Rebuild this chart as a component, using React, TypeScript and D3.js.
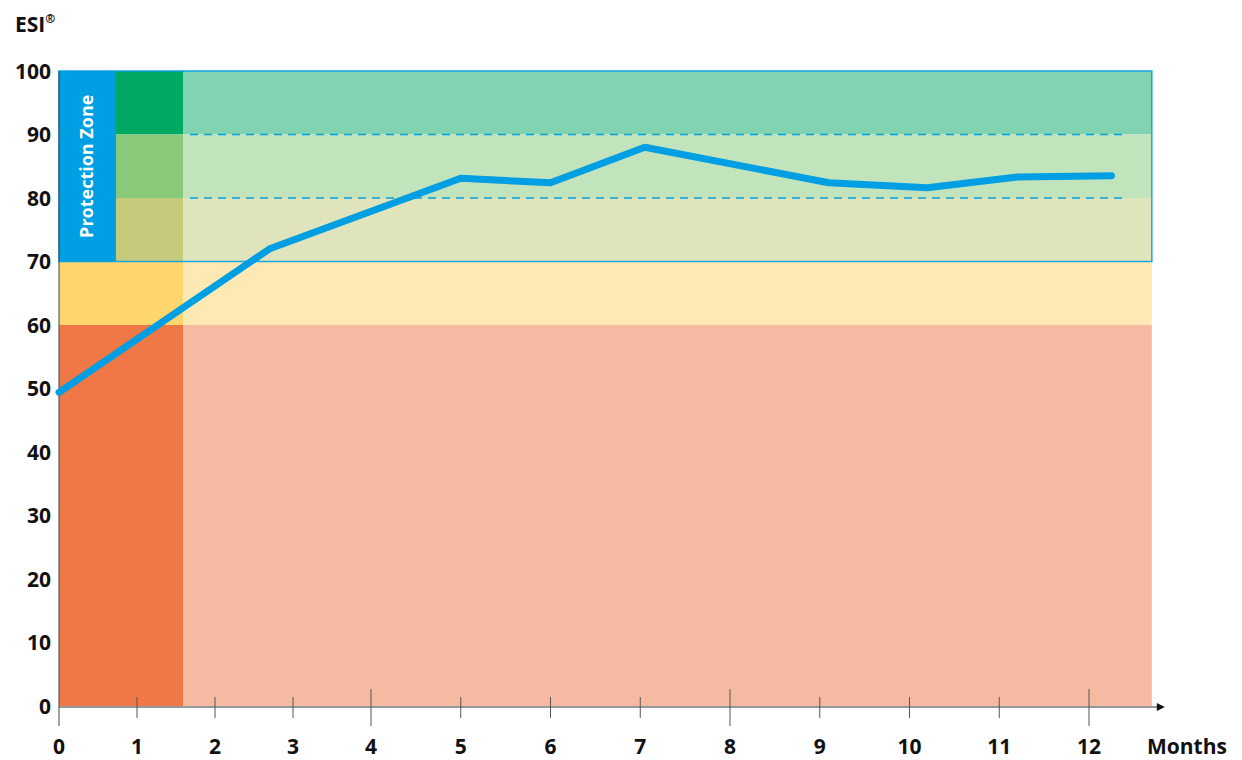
import React from "react";
import * as d3 from "d3";

// ESI score over the months
const months = [0, 2.7, 5, 6, 7.05, 9.1, 10.2, 11.2, 12.25];
const esi = [49.4, 72.0, 83.1, 82.4, 88.0, 82.4, 81.6, 83.3, 83.5];

const xTicks = [0, 1, 2, 3, 4, 5, 6, 7, 8, 9, 10, 11, 12];
const majorTicks = [0, 4, 8, 12];
const yTicks = [0, 10, 20, 30, 40, 50, 60, 70, 80, 90, 100];

// zone bands: [low, high]
const bandLevels = [[90, 100], [80, 90], [70, 80], [60, 70], [0, 60]];
const columnColors = ["#00A963", "#88C97A", "#C5CB7A", "#FFD56E", "#F07846"];
const fieldColors = ["#80D4B2", "#C2E4BC", "#DFE4BC", "#FEE9B4", "#F6BAA2"];
const dashedLevels = [90, 80];

const BLUE = "#009FE3";
const FONT = "'Open Sans', 'DejaVu Sans', sans-serif";

export default function App() {
  const x = d3.scaleLinear().domain([0, 4, 12]).range([59, 371, 1089]);
  const y = d3.scaleLinear().domain([0, 100]).range([706, 71]);

  const pzRight = x(0.73);
  const colRight = x(1.59);
  const fieldRight = x(12.7);
  const axisY = y(0) + 1;

  const line = d3
    .line<number>()
    .x((_, i) => x(months[i]))
    .y((d) => y(d));

  return (
    <svg width={1242} height={760} style={{ position: "absolute", left: 0, top: 0 }} fontFamily={FONT}>
      <rect width={1242} height={760} fill="#fff" />

      {/* bands */}
      {bandLevels.map(([lo, hi], i) => (
        <g key={i}>
          <rect x={x(0)} y={y(hi)} width={colRight - x(0)} height={y(lo) - y(hi)} fill={columnColors[i]} />
          <rect x={colRight} y={y(hi)} width={fieldRight - colRight} height={y(lo) - y(hi)} fill={fieldColors[i]} />
        </g>
      ))}

      {/* protection zone */}
      <rect x={x(0)} y={y(100)} width={pzRight - x(0)} height={y(70) - y(100)} fill={BLUE} />
      <text
        transform={`translate(${(x(0) + pzRight) / 2 + 6},${(y(100) + y(70)) / 2}) rotate(-90)`}
        textAnchor="middle"
        fill="#fff"
        fontWeight={700}
        fontSize={18}
      >
        Protection Zone
      </text>

      {/* frame around the protection range */}
      <rect
        x={x(0)}
        y={y(100)}
        width={fieldRight - x(0)}
        height={y(70) - y(100)}
        fill="none"
        stroke={BLUE}
        strokeWidth={1.5}
        opacity={0.9}
      />

      {dashedLevels.map((v) => (
        <line
          key={v}
          x1={colRight + 7}
          x2={x(12.38)}
          y1={y(v)}
          y2={y(v)}
          stroke={BLUE}
          strokeWidth={1.5}
          strokeDasharray="8 6"
        />
      ))}

      {/* axes */}
      <line x1={x(0)} x2={x(0)} y1={y(100)} y2={axisY + 19} stroke="#444" strokeWidth={1} />
      <line x1={x(0)} x2={x(12.8)} y1={axisY} y2={axisY} stroke="#333" strokeWidth={1} />
      <path
        d={`M${x(12.8) + 4},${axisY} L${x(12.8) - 4},${axisY - 4} L${x(12.8) - 4},${axisY + 4} Z`}
        fill="#111"
      />
      {xTicks.slice(1).map((t) => {
        const major = majorTicks.includes(t);
        return (
          <line
            key={t}
            x1={x(t)}
            x2={x(t)}
            y1={axisY - (major ? 18 : 10)}
            y2={axisY + (major ? 19 : 11)}
            stroke="#555"
            strokeWidth={1}
          />
        );
      })}

      {xTicks.map((t) => (
        <text key={t} x={x(t)} y={754} textAnchor="middle" fontWeight={700} fontSize={21} fill="#111">
          {t}
        </text>
      ))}
      <text x={1187} y={754} textAnchor="middle" fontWeight={700} fontSize={21} fill="#111">
        Months
      </text>

      {yTicks.map((t) => (
        <text key={t} x={51} y={y(t) + 7.5} textAnchor="end" fontWeight={700} fontSize={21} fill="#111">
          {t}
        </text>
      ))}

      <text x={15} y={32} fontWeight={700} fontSize={21} fill="#111">
        ESI
        <tspan fontSize={12} dy={-9}>®</tspan>
      </text>

      {/* ESI line */}
      <path
        d={line(esi) ?? ""}
        fill="none"
        stroke={BLUE}
        strokeWidth={7}
        strokeLinecap="round"
        strokeLinejoin="round"
      />
    </svg>
  );
}
